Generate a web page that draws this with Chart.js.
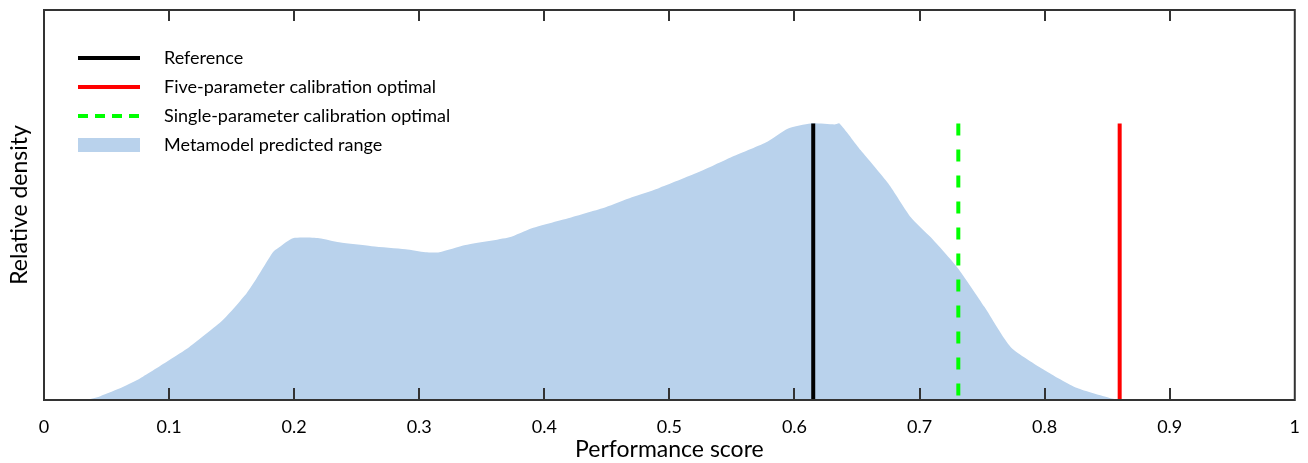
<!DOCTYPE html>
<html>
<head>
<meta charset="utf-8">
<script src="https://cdn.jsdelivr.net/npm/chart.js@4"></script>
<style>
  html, body { margin: 0; padding: 0; background: #fff; }
  #wrap { width: 1308px; height: 463px; }
</style>
</head>
<body>
<div id="wrap"><canvas id="densityChart" width="1308" height="463"></canvas></div>
<script>
// Density curve (x = performance score, y = relative density, peak = 1)
const scoreX = [0.034, 0.045, 0.063, 0.077, 0.100, 0.116, 0.143, 0.162, 0.170, 0.183, 0.188, 0.199,
                0.220, 0.236, 0.262, 0.289, 0.305, 0.316, 0.337, 0.372, 0.390, 0.422, 0.449, 0.470,
                0.491, 0.523, 0.549, 0.577, 0.595, 0.613, 0.632, 0.636, 0.653, 0.675, 0.693, 0.709,
                0.730, 0.752, 0.773, 0.800, 0.826, 0.852, 0.860];
const densityY = [0.000, 0.014, 0.047, 0.079, 0.144, 0.191, 0.289, 0.386, 0.440, 0.534, 0.552, 0.585,
                  0.585, 0.570, 0.556, 0.545, 0.534, 0.534, 0.560, 0.588, 0.621, 0.661, 0.697, 0.733,
                  0.765, 0.823, 0.877, 0.931, 0.982, 1.000, 0.996, 1.000, 0.903, 0.783, 0.661, 0.588,
                  0.480, 0.336, 0.191, 0.108, 0.043, 0.007, 0.000];

// Vertical markers
const markerLabels = ['Reference', 'Five-parameter calibration optimal', 'Single-parameter calibration optimal'];
const markerScores = [0.615, 0.860, 0.731];
const markerColors = ['#000000', '#ff0000', '#00ff00'];
const markerTop = 1.0;

const densityLabel = 'Metamodel predicted range';
const xTicks = [0, 0.1, 0.2, 0.3, 0.4, 0.5, 0.6, 0.7, 0.8, 0.9, 1];

const FONT = 'Lato, "Open Sans", sans-serif';
const AXIS_COLOR = '#333333';

// Frame + inward tick marks on top and bottom
const framePlugin = {
    id: 'frame',
    afterDraw(chart) {
        const { ctx, chartArea: a } = chart;
        const xs = chart.scales.x;
        ctx.save();
        ctx.strokeStyle = AXIS_COLOR;
        ctx.lineWidth = 2;
        ctx.strokeRect(a.left, a.top, a.right - a.left, a.bottom - a.top);
        xs.ticks.forEach(t => {
            if (t.value <= 0 || t.value >= 1) return;
            const px = Math.round(xs.getPixelForValue(t.value));
            ctx.beginPath();
            ctx.moveTo(px, a.bottom);
            ctx.lineTo(px, a.bottom - 12);
            ctx.moveTo(px, a.top);
            ctx.lineTo(px, a.top + 11);
            ctx.stroke();
        });
        ctx.restore();
    }
};

// Legend inside the plot, top-left
const insideLegend = {
    id: 'insideLegend',
    afterDraw(chart) {
        const { ctx, chartArea: a } = chart;
        ctx.save();
        ctx.font = '18px ' + FONT;
        ctx.textBaseline = 'middle';
        chart.data.datasets.forEach((ds, i) => {
            const y = a.top + 48 + i * 29;
            const x0 = a.left + 34, x1 = a.left + 96;
            if (ds.fill) {
                ctx.fillStyle = ds.backgroundColor;
                ctx.fillRect(x0, y - 7, x1 - x0, 14);
            } else {
                ctx.strokeStyle = ds.borderColor;
                ctx.lineWidth = 4;
                ctx.setLineDash(ds.borderDash ? [10, 7] : []);
                ctx.beginPath();
                ctx.moveTo(x0, y);
                ctx.lineTo(x1, y);
                ctx.stroke();
                ctx.setLineDash([]);
            }
            ctx.fillStyle = '#000';
            ctx.fillText(ds.label, a.left + 120, y);
        });
        ctx.restore();
    }
};

const datasets = markerScores.map((s, i) => ({
    label: markerLabels[i],
    data: [{ x: s, y: markerTop }, { x: s, y: 0 }],
    borderColor: markerColors[i],
    borderWidth: 4,
    borderDash: i === 2 ? [12, 14] : undefined,
    borderCapStyle: 'butt',
    pointRadius: 0,
    fill: false
}));

datasets.push({
    label: densityLabel,
    data: scoreX.map((x, i) => ({ x: x, y: densityY[i] })),
    borderWidth: 0,
    borderColor: 'rgba(0,0,0,0)',
    backgroundColor: '#b9d2ec',
    pointRadius: 0,
    tension: 0.2,
    fill: 'origin'
});

new Chart(document.getElementById('densityChart'), {
    type: 'line',
    data: { datasets: datasets },
    options: {
        responsive: false,
        animation: false,
        layout: { padding: { top: 10, right: 10, left: 0, bottom: 0 } },
        plugins: { legend: { display: false }, tooltip: { enabled: false } },
        scales: {
            x: {
                type: 'linear',
                min: 0,
                max: 1,
                afterFit: s => { s.height = 63; },
                afterBuildTicks: s => { s.ticks = xTicks.map(v => ({ value: v })); },
                ticks: {
                    color: '#000',
                    font: { family: FONT, size: 18 },
                    padding: 8,
                    maxRotation: 0,
                    callback: v => String(v)
                },
                grid: { display: false },
                border: { display: false },
                title: {
                    display: true,
                    text: 'Performance score',
                    color: '#000',
                    font: { family: FONT, size: 23 },
                    padding: { top: 0, bottom: 0 }
                }
            },
            y: {
                min: 0,
                max: 1.41,
                afterFit: s => { s.width = 44; },
                ticks: { display: false },
                grid: { display: false },
                border: { display: false },
                title: {
                    display: true,
                    text: 'Relative density',
                    color: '#000',
                    font: { family: FONT, size: 23 },
                    padding: { top: 6, bottom: 0 }
                }
            }
        }
    },
    plugins: [framePlugin, insideLegend]
});
</script>
</body>
</html>
